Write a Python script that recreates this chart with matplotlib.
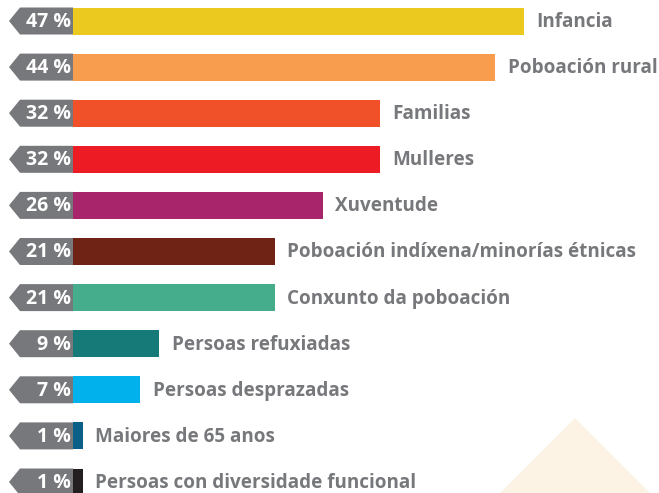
import matplotlib
matplotlib.use("Agg")
import matplotlib.pyplot as plt
from matplotlib.patches import Polygon

categories = ["Infancia", "Poboación rural", "Familias", "Mulleres", "Xuventude",
              "Poboación indíxena/minorías étnicas", "Conxunto da poboación",
              "Persoas refuxiadas", "Persoas desprazadas", "Maiores de 65 anos",
              "Persoas con diversidade funcional"]
values = [47, 44, 32, 32, 26, 21, 21, 9, 7, 1, 1]
colors = ["#ebc91e", "#f79d4d", "#f05128", "#ed1c24", "#a8246b", "#6e2315",
          "#45ad8b", "#167a78", "#00b1ec", "#0c5f86", "#231f20"]

W, H = 659, 493
fig = plt.figure(figsize=(W / 100, H / 100), dpi=100)

# decorative triangle (figure coords)
tri = Polygon([(500 / W, 0), (575 / W, (H - 418) / H), (650 / W, 0)],
              closed=True, transform=fig.transFigure, facecolor="#fdf3e4",
              edgecolor="none", zorder=0)
fig.patches.append(tri)

ax = fig.add_axes([0, 0, 1, 1])
ax.patch.set_alpha(0)
pxu = 9.6  # pixels per percent
x0 = 73
ax.set_xlim(-x0 / pxu, (W - x0) / pxu)
rowh = 46.1
ax.set_ylim((H - 21) / rowh, -21 / rowh)
ax.axis("off")

bh = 27 / rowh
ypos = list(range(len(values)))
ax.barh(ypos, values, height=bh, color=colors, left=0, zorder=2)

tip = (9 - x0) / pxu
corner = (20 - x0) / pxu
for y, v, c in zip(ypos, values, categories):
    poly = Polygon([(0, y - bh / 2), (corner, y - bh / 2), (tip, y),
                    (corner, y + bh / 2), (0, y + bh / 2)], closed=True,
                   facecolor="#77787b", edgecolor="none", zorder=2)
    ax.add_patch(poly)
    ax.text(-0.2, y + 0.02, f"{v} %", ha="right", va="center", color="white",
            fontsize=14, fontweight="bold", family="Open Sans", zorder=3)
    ax.text(v + 1.3, y + 0.02, c, ha="left", va="center", color="#77787b",
            fontsize=13.6, fontweight="bold", family="Open Sans", zorder=3)

fig.savefig("out.png", dpi=100)
